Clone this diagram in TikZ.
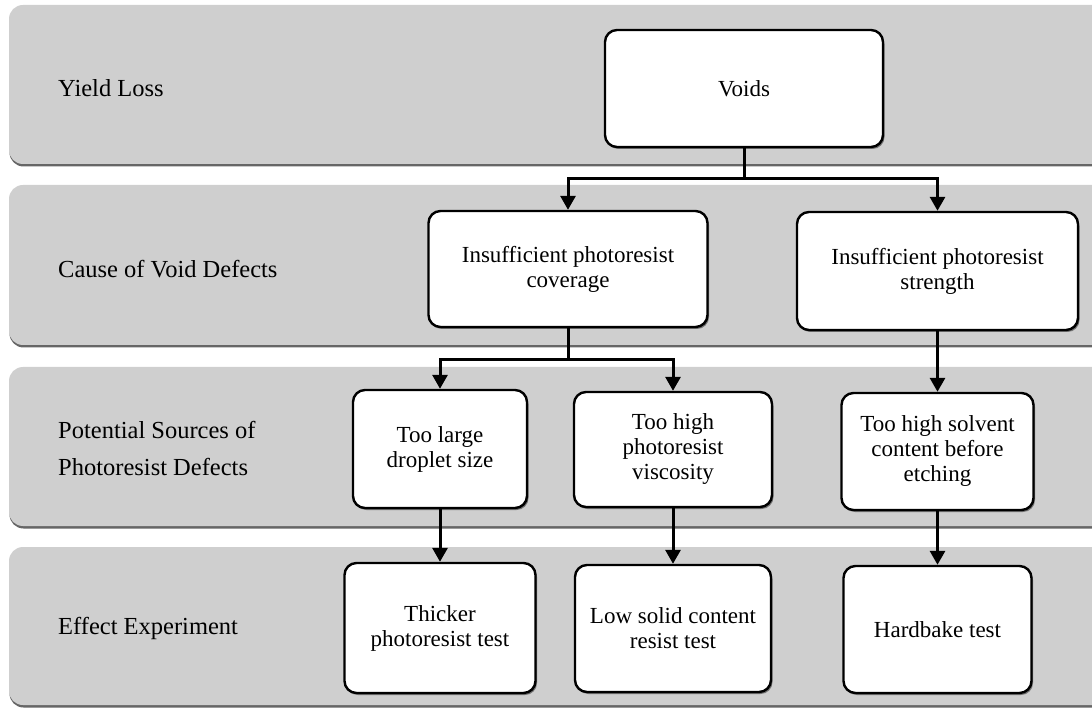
\documentclass[tikz,border=0pt]{standalone}
\usepackage{fontspec}
\setmainfont{Liberation Serif}
\usetikzlibrary{arrows.meta,shadows}
\tikzset{
  band/.style={fill=black!19, rounded corners=14pt,
    drop shadow={shadow xshift=0.5pt, shadow yshift=-2.5pt, opacity=0.8, fill=black!75}},
  stepbox/.style={draw=black, line width=2.4pt, rounded corners=12pt, fill=white,
    align=center, inner sep=0pt, text=black,
    font=\fontsize{23}{25}\selectfont,
    drop shadow={shadow xshift=1.5pt, shadow yshift=-2pt, opacity=0.45, fill=black}},
  rowlabel/.style={anchor=west, align=left, inner sep=0pt, text=black,
    font=\fontsize{24.5}{37}\selectfont},
  link/.style={draw=black, line width=3pt},
  arrowlink/.style={link, -{Triangle[width=15pt,length=14pt]}},
}
\begin{document}
\begin{tikzpicture}[x=1pt,y=-1pt]
\useasboundingbox (0,0) rectangle (1092,708);
\clip (0,0) rectangle (1092,708);
% bands
\path[band] (9,5) rectangle (1130,164);
\path[band] (9,185) rectangle (1130,345);
\path[band] (9,367) rectangle (1130,526);
\path[band] (9,547) rectangle (1130,705);
% row labels
\node[rowlabel] (l1) at (58,88) {Yield Loss};
\node[rowlabel] (l2) at (58,269) {Cause of Void Defects};
\node[rowlabel] (l3) at (58,448) {Potential Sources of\\Photoresist Defects};
\node[rowlabel] (l4) at (58,628) {Effect Experiment};
% boxes
\node[stepbox, minimum width=278pt, minimum height=117pt] (voids) at (744,88.5) {Voids};
\node[stepbox, minimum width=279pt, minimum height=116pt] (cov) at (568,269) {Insufficient photoresist\\coverage};
\node[stepbox, minimum width=281pt, minimum height=118pt] (str) at (937.5,271) {Insufficient photoresist\\strength};
\node[stepbox, minimum width=174pt, minimum height=118pt] (drop) at (440,449) {Too large\\droplet size};
\node[stepbox, minimum width=198pt, minimum height=115pt] (visc) at (673,449.5) {Too high\\photoresist\\viscosity};
\node[stepbox, minimum width=192pt, minimum height=117pt] (solv) at (937.5,451.5) {Too high solvent\\content before\\etching};
\node[stepbox, minimum width=191pt, minimum height=130pt] (thick) at (440,628) {Thicker\\photoresist test};
\node[stepbox, minimum width=196pt, minimum height=127pt] (low) at (673,628.5) {Low solid content\\resist test};
\node[stepbox, minimum width=188pt, minimum height=127pt] (hard) at (937.5,629.5) {Hardbake test};
% connectors
\coordinate (j1) at (744,179);
\coordinate (j2) at (568,360);
\draw[link] (voids.south) -- (j1);
\draw[arrowlink] (j1) -| (cov.north);
\draw[arrowlink] (j1) -| (str.north);
\draw[link] (cov.south) -- (j2);
\draw[arrowlink] (j2) -| (drop.north);
\draw[arrowlink] (j2) -| (visc.north);
\draw[arrowlink] (str.south) -- (solv.north);
\draw[arrowlink] (drop.south) -- (thick.north);
\draw[arrowlink] (visc.south) -- (low.north);
\draw[arrowlink] (solv.south) -- (hard.north);
\end{tikzpicture}
\end{document}
